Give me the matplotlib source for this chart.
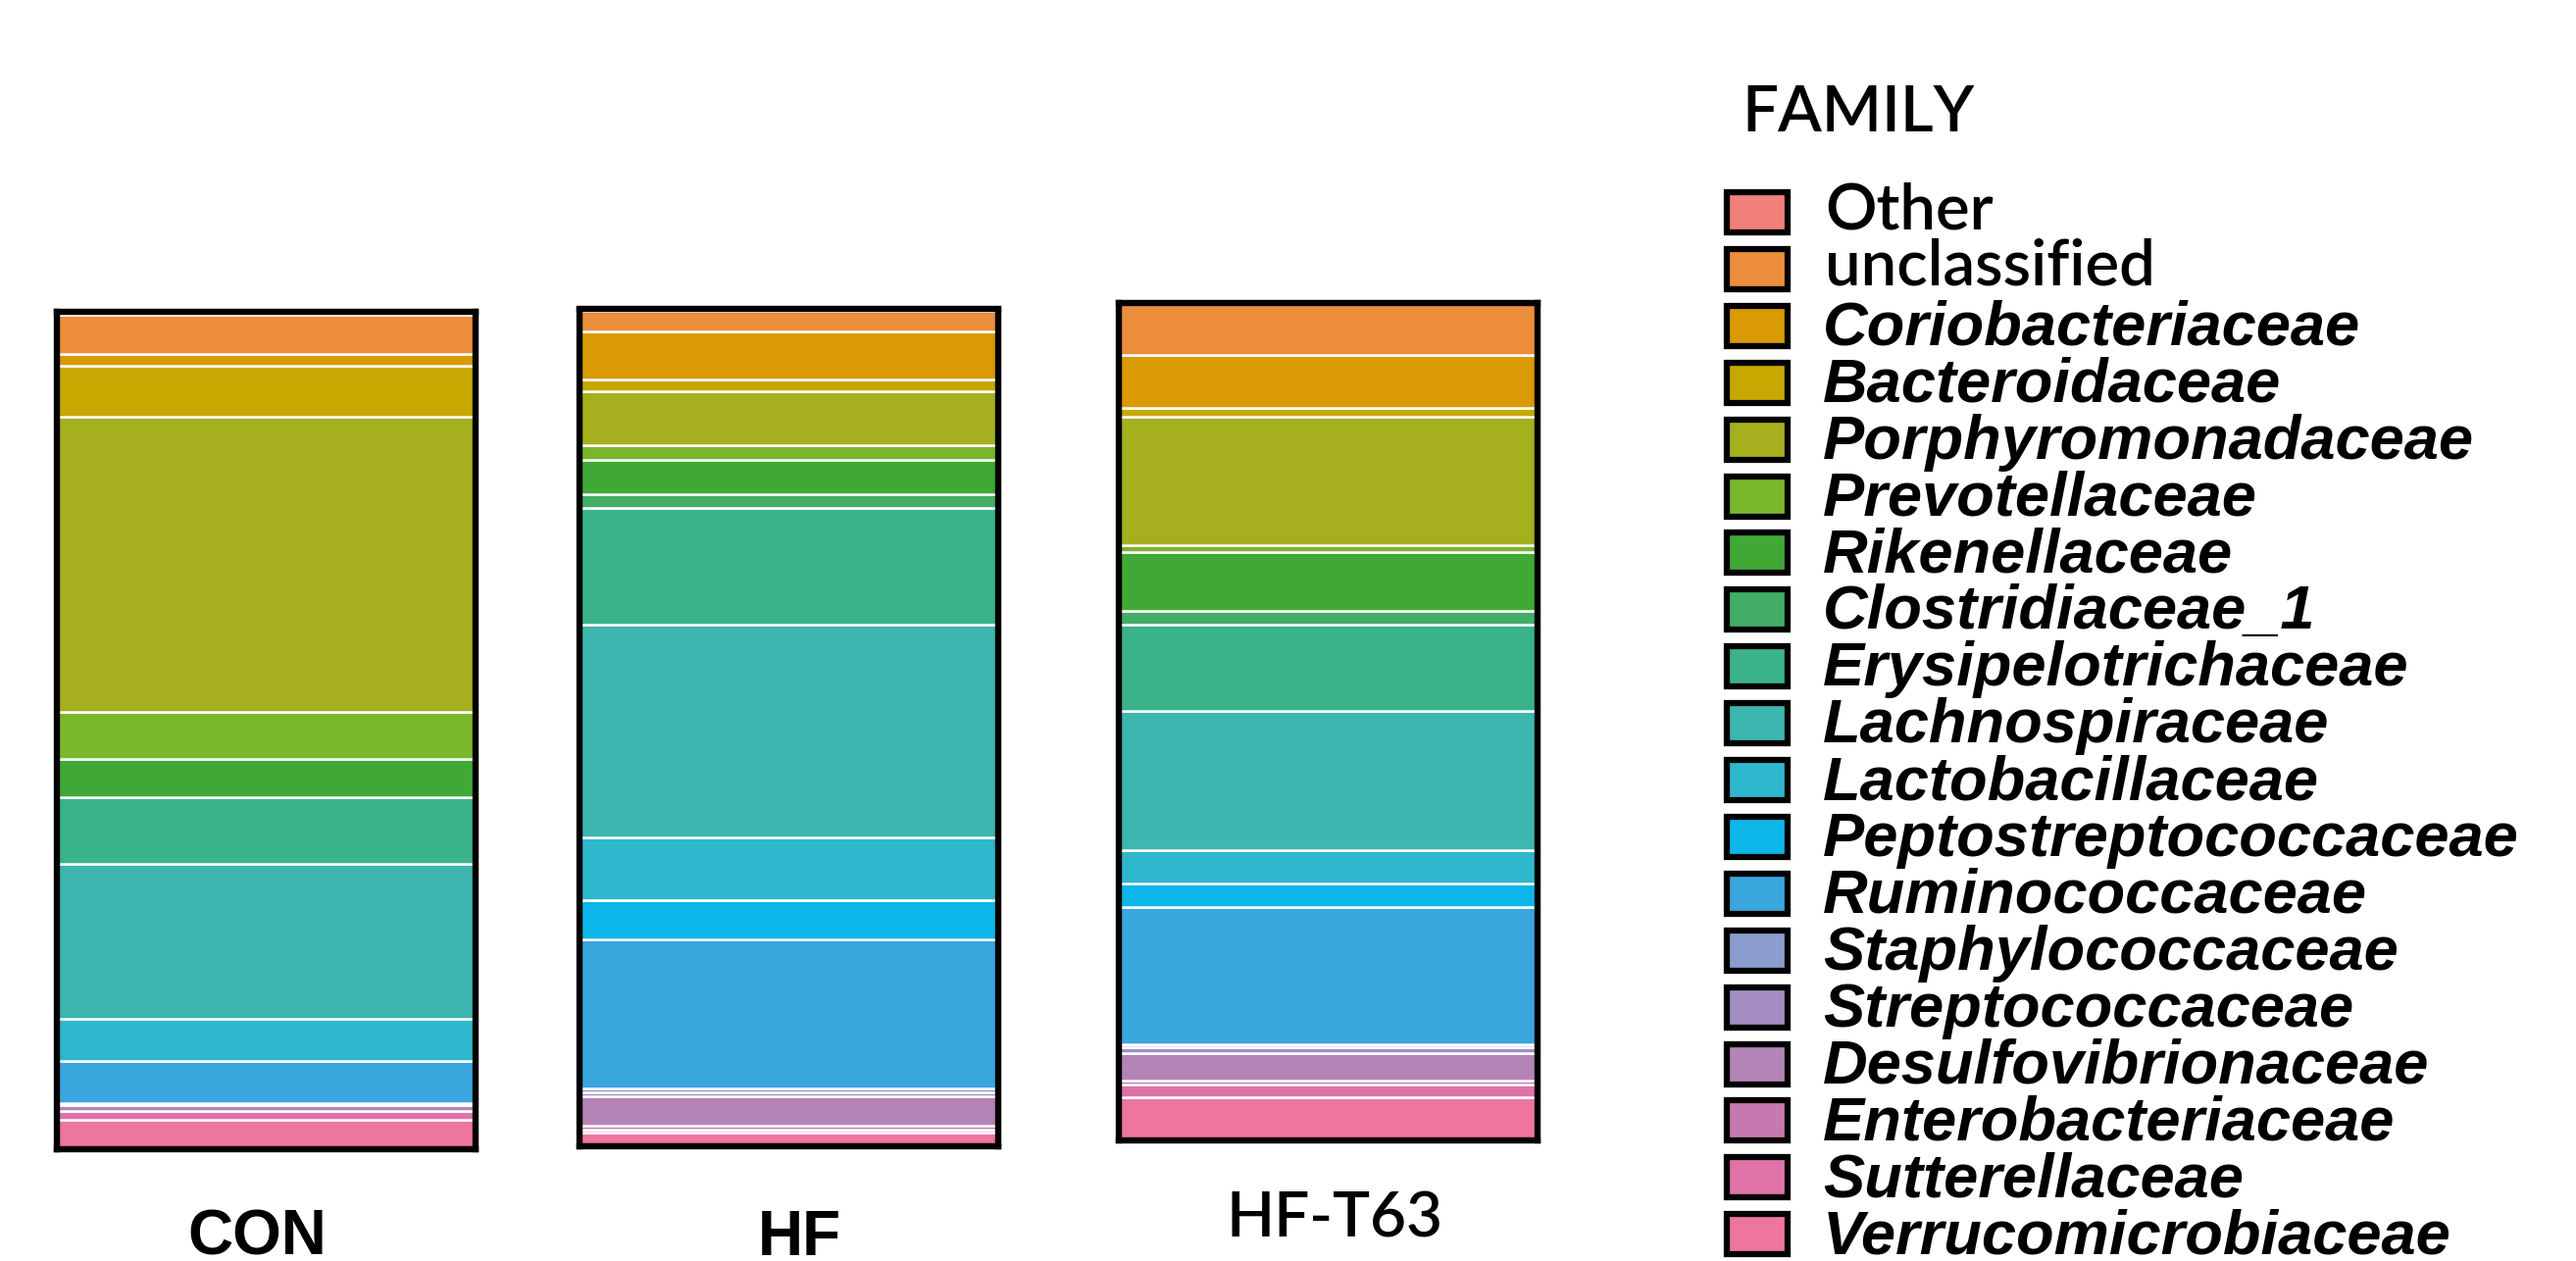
import matplotlib
matplotlib.use("Agg")
import matplotlib.pyplot as plt
from matplotlib.patches import Rectangle
import numpy as np

# ---------------- data ----------------
families = ["Other", "unclassified", "Coriobacteriaceae", "Bacteroidaceae",
            "Porphyromonadaceae", "Prevotellaceae", "Rikenellaceae",
            "Clostridiaceae_1", "Erysipelotrichaceae", "Lachnospiraceae",
            "Lactobacillaceae", "Peptostreptococcaceae", "Ruminococcaceae",
            "Staphylococcaceae", "Streptococcaceae", "Desulfovibrionaceae",
            "Enterobacteriaceae", "Sutterellaceae", "Verrucomicrobiaceae"]
colors = ["#EF7F78", "#EC8D3C", "#D99A04", "#C6A800", "#A6AF1E", "#7AB72B",
          "#40A935", "#42AD67", "#3AB28C", "#3CB6AE", "#2EB8CE", "#0DB6E9",
          "#39A6DE", "#8A9DCC", "#A38DC3", "#B584B6", "#C579AF", "#DF73A8",
          "#EE75A0"]
groups = ["CON", "HF", "HF-T63"]
con = [0.3, 4.8, 1.4, 6.1, 35.2, 5.7, 4.6, 0.0, 7.9, 18.5, 5.1, 0.0, 5.0,
       0.05, 0.2, 0.7, 0.05, 1.05, 3.5]
hf = [0.2, 2.4, 5.8, 1.4, 6.4, 1.8, 4.1, 1.65, 13.9, 25.5, 7.5, 4.7, 17.8,
      0.45, 0.5, 3.5, 0.5, 0.3, 1.7]
hft63 = [0.12, 6.05, 6.4, 1.0, 15.3, 0.86, 7.0, 1.7, 10.3, 16.6, 4.0, 2.8,
         16.4, 0.3, 0.75, 3.25, 0.4, 1.53, 5.2]
values = [con, hf, hft63]

W, H = 2627, 1286
fig = plt.figure(figsize=(W / 100, H / 100), dpi=100)
fig.patch.set_facecolor("white")

SANS2 = ["Lato", "DejaVu Sans"]


def px_axes(x0, y0, x1, y1):
    return fig.add_axes([x0 / W, 1 - y1 / H, (x1 - x0) / W, (y1 - y0) / H])


# panel rectangles (border centre lines) in pixels
panels = [(57.5, 318, 484.5, 1172), (591, 315.5, 1018, 1169), (1141, 309, 1568, 1163)]
label_pos = [(262, 1280, "Liberation Sans", "bold"),
             (815, 1280, "Liberation Sans", "bold"),
             (1361, 1262, "Lato", "semibold")]

for (x0, y0, x1, y1), vals, grp, (lx, ly, fam, wt) in zip(panels, values, groups, label_pos):
    ax = px_axes(x0, y0, x1, y1)
    total = sum(vals)
    bottom = 0.0
    # stack from bottom (last family) to top (first family)
    for v, c in zip(vals[::-1], colors[::-1]):
        ax.bar(0, v, bottom=bottom, width=1.0, color=c, edgecolor="white",
               linewidth=1.8, zorder=1)
        bottom += v
    ax.set_xlim(-0.5, 0.5)
    ax.set_ylim(0, total)
    ax.set_xticks([])
    ax.set_yticks([])
    for s in ax.spines.values():
        s.set_linewidth(4.6)
        s.set_color("black")
        s.set_zorder(3)
    fig.text(lx / W, 1 - ly / H, grp, ha="center", va="baseline",
             fontsize=46, family=fam, fontweight=wt, color="black")

# cut-off title remnants at the very top
fig.text(1105 / W, 1 + 9 / H, "(", ha="center", va="baseline", fontsize=46,
         family="Lato", color="black")
fig.text(1890 / W, 1 + 9 / H, ")", ha="center", va="baseline", fontsize=46,
         family="Lato", color="black")

# ---------------- legend ----------------
lax = fig.add_axes([0, 0, 1, 1])
lax.set_xlim(0, W)
lax.set_ylim(H, 0)
lax.set_axis_off()
lax.text(1776, 134, "FAMILY", fontsize=47, family="Lato", fontweight="semibold",
         va="baseline", ha="left", color="black")
pitch = 57.9
for i, (name, c) in enumerate(zip(families, colors)):
    top = 196 + i * pitch
    lax.add_patch(Rectangle((1761, top), 62, 41, facecolor=c,
                            edgecolor="black", linewidth=4.5))
    if name in ("Other", "unclassified"):
        lax.text(1861, top + 37, name, fontsize=47, family="Lato",
                 fontweight="semibold", va="baseline", ha="left", color="black")
    else:
        lax.text(1859, top + 40, name, fontsize=45.5, family="Liberation Sans",
                 fontweight="bold", fontstyle="italic", va="baseline",
                 ha="left", color="black")

fig.savefig("out.png", dpi=100, facecolor="white")
